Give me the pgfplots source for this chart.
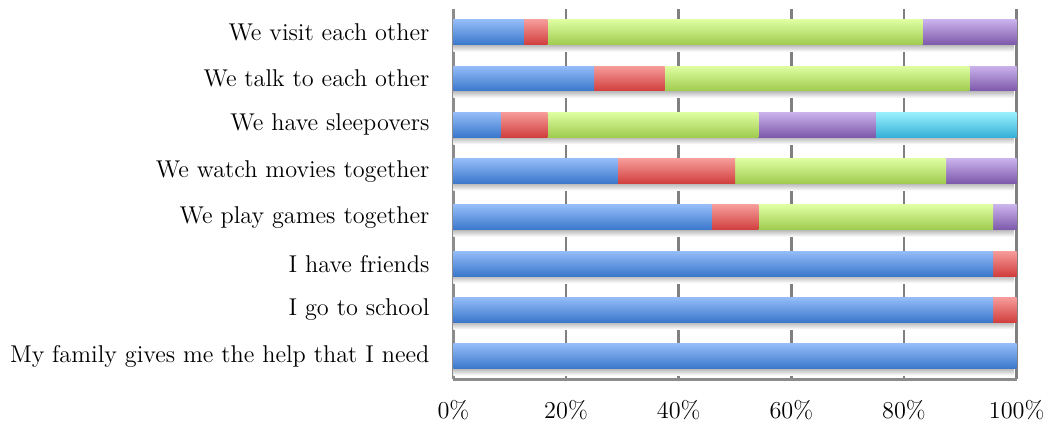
\documentclass[border=0pt]{standalone}
\usepackage{pgfplots}
\pgfplotsset{compat=1.18}
\definecolor{btop}{HTML}{94BCF8}
\definecolor{bbot}{HTML}{3A77CB}
\definecolor{rtop}{HTML}{F69C9A}
\definecolor{rbot}{HTML}{D03E3D}
\definecolor{gtop}{HTML}{DFFEA2}
\definecolor{gbot}{HTML}{9FCB4E}
\definecolor{ptop}{HTML}{CAB2EC}
\definecolor{pbot}{HTML}{7C58AA}
\definecolor{ctop}{HTML}{9AF0FD}
\definecolor{cbot}{HTML}{36B0D8}
% one bar segment: colour prefix, right end (cumulative %), row
\newcommand{\seg}[3]{\addplot[draw=none, shade, top color=#1top, bottom color=#1bot] coordinates {(#2,#3)};}
\newcommand{\shad}[1]{\addplot[draw=none, shade, top color=black!28, bottom color=white, bar width=3.5pt, bar shift=-8pt] coordinates {(99.5,#1)};}
\begin{document}
\begin{tikzpicture}
\begin{axis}[
  xbar,
  scale only axis,
  width=283pt, height=186pt,
  xmin=0, xmax=100,
  ymin=-0.5, ymax=7.5,
  bar width=12.5pt,
  every axis plot/.append style={bar shift=0pt},
  ytick={0,...,7},
  yticklabels={My family gives me the help that I need, I go to school, I have friends, We play games together, We watch movies together, We have sleepovers, We talk to each other, We visit each other},
  xtick={0,20,...,100},
  xticklabel={\pgfmathprintnumber{\tick}\%},
  /pgf/number format/assume math mode=true,
  ticklabel style={font=\fontsize{12.2}{14.5}\selectfont},
  xticklabel style={yshift=-7pt},
  yticklabel style={xshift=-8.5pt},
  major tick length=0pt,
  xmajorgrids,
  grid style={black!50, line width=1.2pt},
  axis x line*=bottom,
  axis y line*=left,
  axis line style={black!45, line width=1.2pt},
]
% shadows
\shad{0}\shad{1}\shad{2}\shad{3}\shad{4}\shad{5}\shad{6}\shad{7}
% row 7: We visit each other
\seg{p}{100}{7}\seg{g}{83.33}{7}\seg{r}{16.67}{7}\seg{b}{12.5}{7}
% row 6: We talk to each other
\seg{p}{100}{6}\seg{g}{91.67}{6}\seg{r}{37.5}{6}\seg{b}{25}{6}
% row 5: We have sleepovers
\seg{c}{100}{5}\seg{p}{75}{5}\seg{g}{54.17}{5}\seg{r}{16.67}{5}\seg{b}{8.33}{5}
% row 4: We watch movies together
\seg{p}{100}{4}\seg{g}{87.5}{4}\seg{r}{50}{4}\seg{b}{29.17}{4}
% row 3: We play games together
\seg{p}{100}{3}\seg{g}{95.83}{3}\seg{r}{54.17}{3}\seg{b}{45.83}{3}
% row 2: I have friends
\seg{r}{100}{2}\seg{b}{95.83}{2}
% row 1: I go to school
\seg{r}{100}{1}\seg{b}{95.83}{1}
% row 0: My family gives me the help that I need
\seg{b}{100}{0}
\end{axis}
\path (current bounding box.north) ++(0,4pt);
\path (current bounding box.west) ++(-1.7pt,0);
\path (current bounding box.south) ++(0,-2pt);
\end{tikzpicture}
\end{document}
